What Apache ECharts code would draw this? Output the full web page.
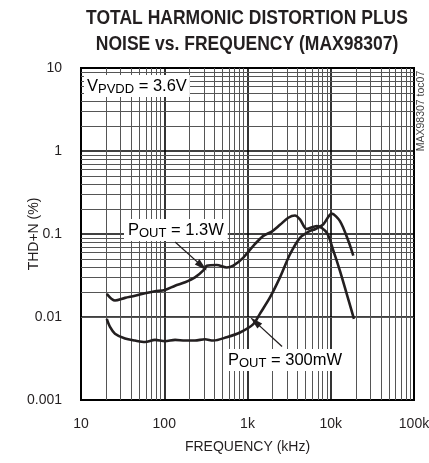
<!DOCTYPE html>
<html><head><meta charset="utf-8">
<script src="https://cdn.jsdelivr.net/npm/echarts@6/dist/echarts.min.js"></script>
<style>html,body{margin:0;padding:0;background:#fff}#c{width:429px;height:463px}</style>
</head><body><div id="c"></div>
<script>
// ---- data ----
const xTicks = [10, 100, 1000, 10000, 100000];
const xTickLabels = ['10', '100', '1k', '10k', '100k'];
const yTicks = [0.001, 0.01, 0.1, 1, 10];
const yTickLabels = ['0.001', '0.01', '0.1', '1', '10'];

const freq13 = [20.4, 25.6, 33.8, 44.5, 58.7, 77.4, 102, 135, 178, 234, 308, 323, 427, 562, 675, 891, 1175, 1549, 1954, 2455, 3090, 3720, 4270, 5140, 6780, 8940, 10740, 12900, 15550, 19000];
const thd13  = [0.019, 0.0158, 0.017, 0.018, 0.0193, 0.0204, 0.0212, 0.0238, 0.0262, 0.030, 0.038, 0.0415, 0.0423, 0.0395, 0.0415, 0.052, 0.072, 0.095, 0.107, 0.129, 0.157, 0.167, 0.150, 0.115, 0.125, 0.104, 0.063, 0.036, 0.019, 0.0095];

const freq300 = [20.4, 22.3, 25.6, 33.8, 44.5, 58.7, 77.4, 102, 135, 178, 234, 308, 388, 562, 813, 1175, 1413, 1862, 2455, 3240, 4270, 5630, 6470, 8150, 10260, 12900, 16250, 18660];
const thd300  = [0.0095, 0.0076, 0.0063, 0.0055, 0.0052, 0.0050, 0.0053, 0.0051, 0.0053, 0.0052, 0.0052, 0.0054, 0.0052, 0.0057, 0.0065, 0.0082, 0.011, 0.0172, 0.030, 0.057, 0.090, 0.109, 0.114, 0.131, 0.176, 0.143, 0.083, 0.055];

// annotation arrows (tail -> head), in data space
const arrow13 = [[135, 0.080], [284, 0.041]];
const arrow300 = [[2600, 0.0044], [1230, 0.0088]];

// ---- build ----
function zip(a, b) { return a.map((v, i) => [v, b[i]]); }
function minorValues(ticks) {
  const out = [];
  for (let i = 0; i < ticks.length - 1; i++)
    for (let k = 2; k <= 9; k++) out.push(+(ticks[i] * k).toPrecision(6));
  return out;
}
function labelFor(ticks, labels, v) {
  const lv = Math.log10(v);
  for (let i = 0; i < ticks.length; i++) if (Math.abs(Math.log10(ticks[i]) - lv) < 1e-6) return labels[i];
  return '';
}
const FONT = '"Liberation Sans", Arial, sans-serif';
const INK = '#231f20';

const minorLines = minorValues(xTicks).map(v => ({ xAxis: v }))
  .concat(minorValues(yTicks).map(v => ({ yAxis: v })));

const chart = echarts.init(document.getElementById('c'), null, { renderer: 'canvas' });
const sub = { fontSize: 13, fontFamily: FONT, color: INK, verticalAlign: 'bottom', lineHeight: 10 };
const main = { fontSize: 16.5, fontFamily: FONT, color: INK, lineHeight: 20 };

chart.setOption({
  animation: false,
  grid: { left: 81, right: 15, top: 68, bottom: 63, outerBoundsMode: 'none', containLabel: false,
          show: true, borderColor: '#000', borderWidth: 2, backgroundColor: '#fff' },
  xAxis: {
    type: 'log', logBase: 10, min: 10, max: 100000,
    name: 'FREQUENCY (kHz)', nameLocation: 'middle', nameGap: 40, nameMoveOverlap: false,
    nameTextStyle: { fontSize: 14, fontFamily: FONT, color: INK },
    axisLine: { show: true, lineStyle: { color: '#000', width: 2 } },
    axisTick: { show: false },
    axisLabel: { fontSize: 14, fontFamily: FONT, color: INK, margin: 17, hideOverlap: false, formatter: v => labelFor(xTicks, xTickLabels, v) },
    splitLine: { show: true, lineStyle: { color: '#000', width: 1.6 } }
  },
  yAxis: {
    type: 'log', logBase: 10, min: 0.001, max: 10,
    name: 'THD+N (%)', nameLocation: 'middle', nameGap: 40, nameMoveOverlap: false,
    nameTextStyle: { fontSize: 14, fontFamily: FONT, color: INK },
    axisLine: { show: true, lineStyle: { color: '#000', width: 2 } },
    axisTick: { show: false },
    axisLabel: { fontSize: 14, fontFamily: FONT, color: INK, margin: 19, formatter: v => labelFor(yTicks, yTickLabels, v) },
    splitLine: { show: true, lineStyle: { color: '#000', width: 1.6 } }
  },
  series: [
    {
      type: 'line', data: [], z: 1, silent: true,
      markLine: {
        silent: true, symbol: ['none', 'none'], animation: false,
        label: { show: false },
        lineStyle: { color: '#555', width: 1, type: 'solid' },
        emphasis: { disabled: true },
        data: minorLines
      }
    },
    {
      name: 'POUT = 1.3W', type: 'line', data: zip(freq13, thd13), showSymbol: false, smooth: 0.3, z: 5,
      lineStyle: { color: INK, width: 2.6 }
    },
    {
      name: 'POUT = 300mW', type: 'line', data: zip(freq300, thd300), showSymbol: false, smooth: 0.3, z: 5,
      lineStyle: { color: INK, width: 2.6 }
    },
    {
      type: 'line', data: [], z: 6, silent: true,
      markLine: {
        silent: true, symbol: ['none', 'triangle'], symbolSize: [7, 13], animation: false,
        label: { show: false },
        lineStyle: { color: INK, width: 1.3, type: 'solid' },
        itemStyle: { color: INK },
        emphasis: { disabled: true },
        data: [
          [{ coord: arrow13[0] }, { coord: arrow13[1] }],
          [{ coord: arrow300[0] }, { coord: arrow300[1] }]
        ]
      }
    }
  ],
  graphic: [
    { type: 'text', x: 247, y: 5, scaleX: 0.875, z: 10, style: {
      text: 'TOTAL HARMONIC DISTORTION PLUS\nNOISE vs. FREQUENCY (MAX98307)',
      font: 'bold 20px "Liberation Sans", Arial, sans-serif',
      fill: INK, align: 'center', verticalAlign: 'top', lineHeight: 26 } },
    { type: 'text', x: 84, y: 86, z: 10, style: {
      text: '{m|V}{s|PVDD}{m| = 3.6V}', rich: { m: main, s: sub },
      backgroundColor: '#fff', padding: [1, 3, 1, 3], verticalAlign: 'middle', align: 'left' } },
    { type: 'text', x: 124, y: 230, z: 10, style: {
      text: '{m|P}{s|OUT}{m| = 1.3W}', rich: { m: main, s: sub },
      backgroundColor: '#fff', padding: [1, 4, 1, 4], verticalAlign: 'middle', align: 'left' } },
    { type: 'text', x: 224, y: 360, z: 10, style: {
      text: '{m|P}{s|OUT}{m| = 300mW}', rich: { m: main, s: sub },
      backgroundColor: '#fff', padding: [1, 4, 1, 4], verticalAlign: 'middle', align: 'left' } },
    { type: 'text', x: 421, y: 111, rotation: Math.PI / 2, z: 10, style: {
      text: 'MAX98307 toc07', font: '10.5px "Liberation Sans", Arial, sans-serif',
      fill: '#444', align: 'center', verticalAlign: 'middle' } }
  ]
});
</script>
</body></html>
